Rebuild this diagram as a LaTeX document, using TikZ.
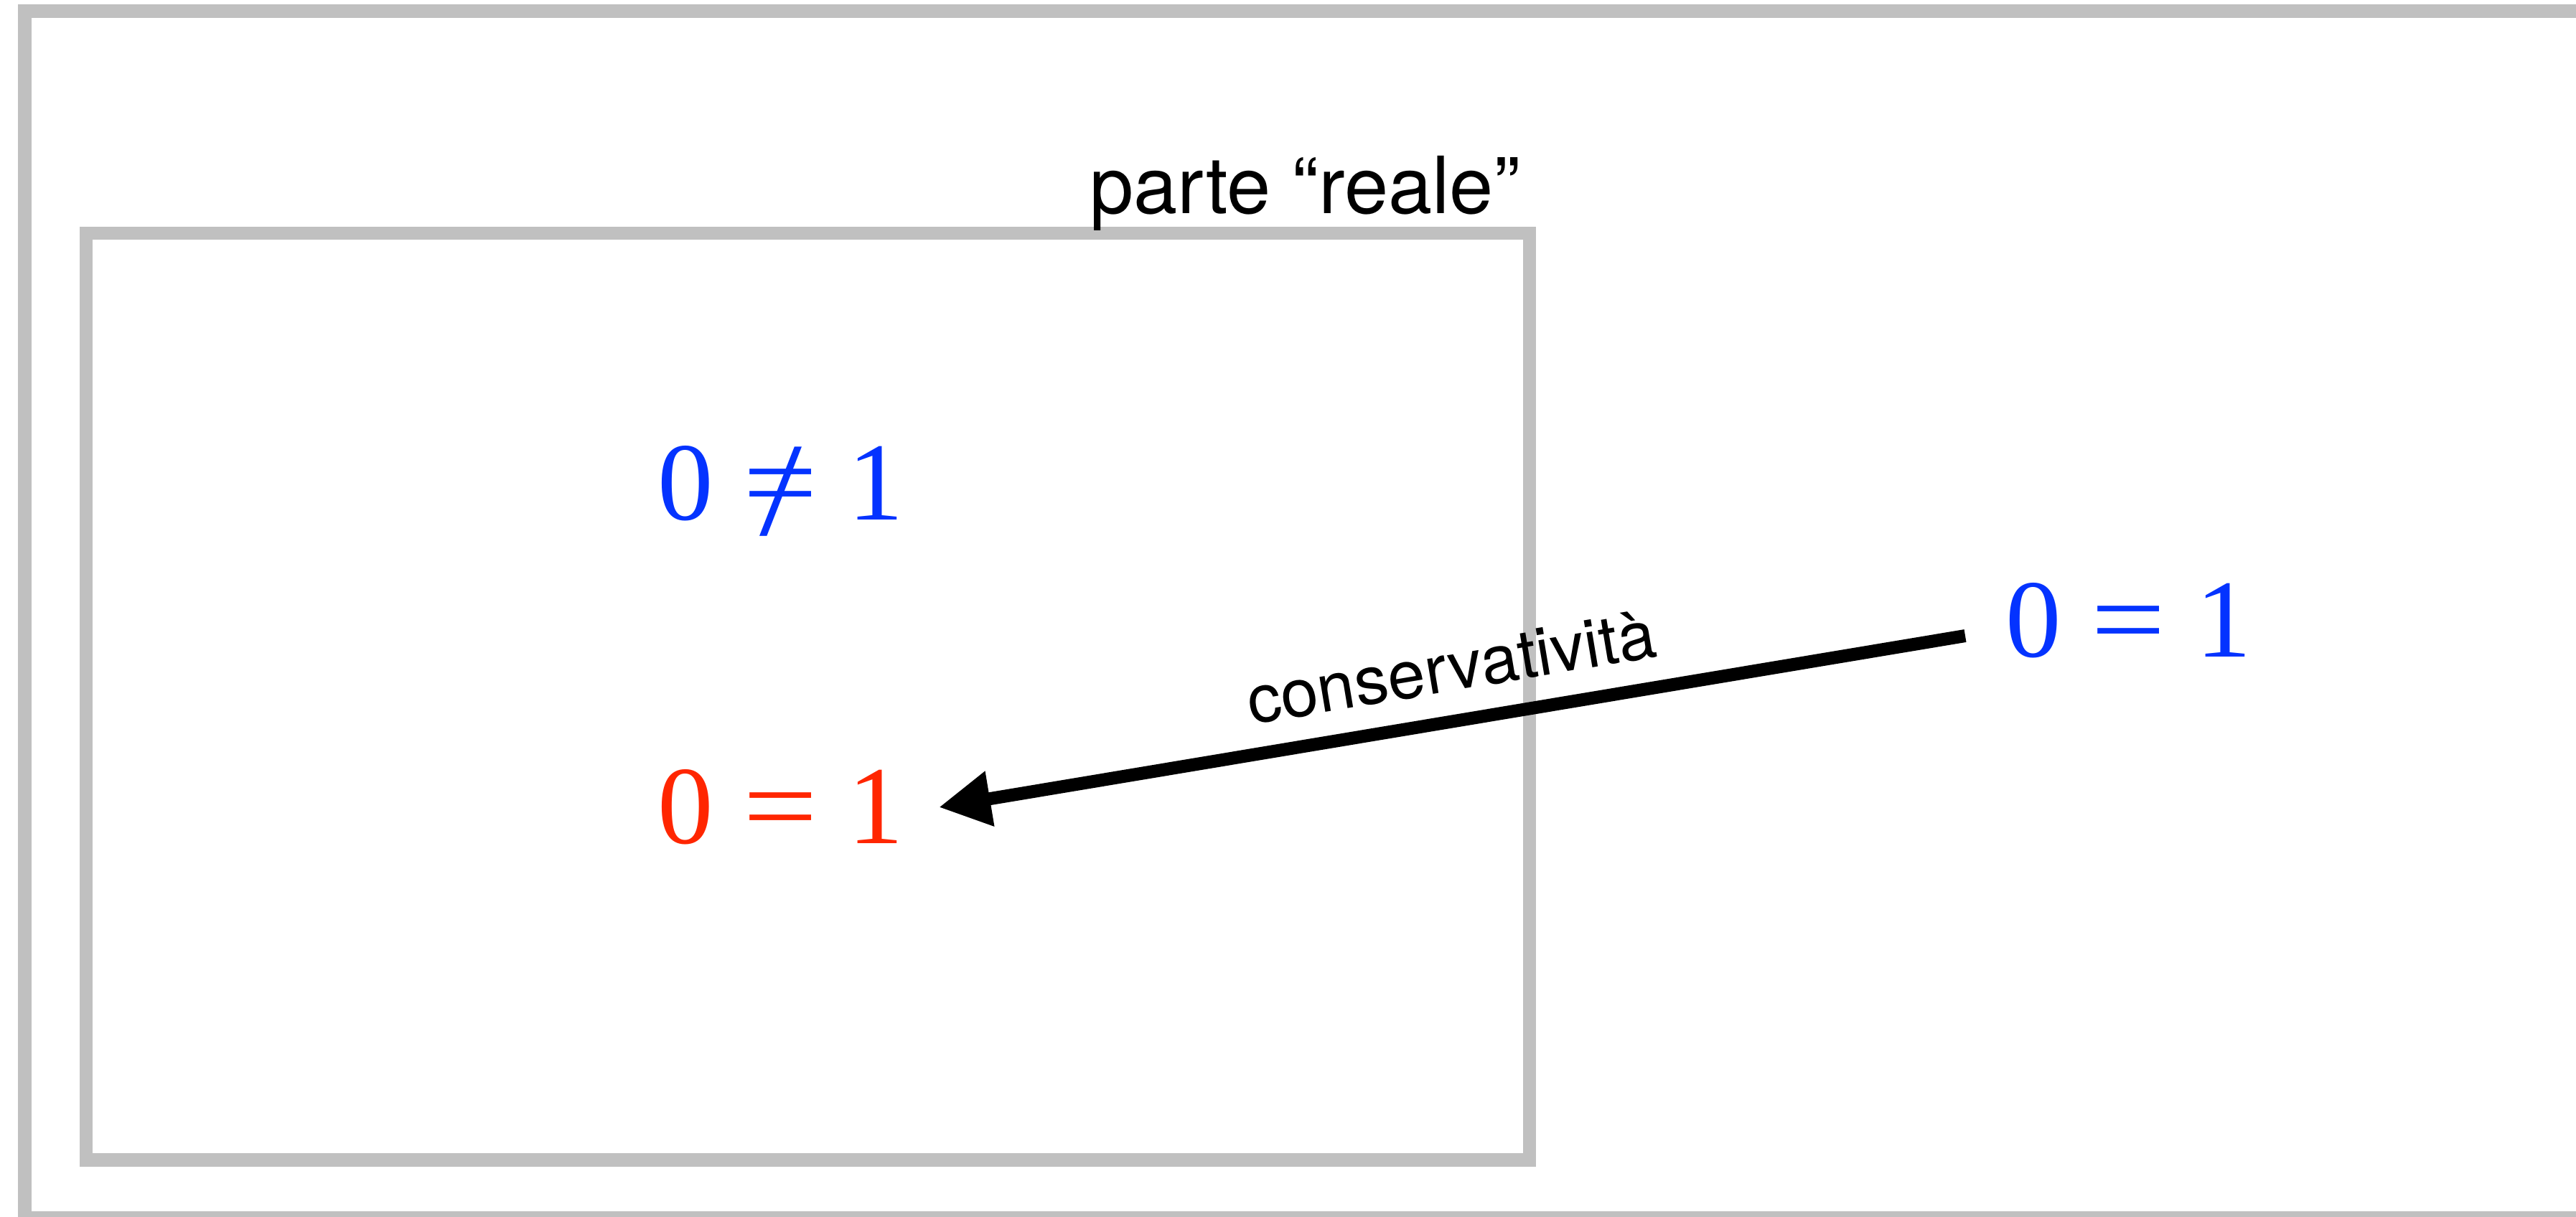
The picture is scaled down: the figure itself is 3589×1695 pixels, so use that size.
\documentclass[tikz,border=0pt]{standalone}
\usepackage{fontspec}
\usepackage{graphicx}
\setmainfont{TeX Gyre Heros}
\newfontfamily\tnr{Liberation Serif}
\usetikzlibrary{arrows.meta}
\definecolor{framegray}{RGB}{192,192,192}
\definecolor{eqblue}{RGB}{4,51,255}
\definecolor{eqred}{RGB}{255,38,0}
\newsavebox\myeqbox
\newcommand{\wideeq}{\kern8.4pt\scalebox{1.19}[1]{=}\kern8.4pt}
\newcommand{\wideneq}{\kern8.4pt\sbox\myeqbox{\scalebox{1.19}[1]{=}}%
  \makebox[\wd\myeqbox]{\raisebox{-4.3pt}{\scalebox{1.37}[1.2]{/}}}%
  \llap{\usebox\myeqbox}\kern8.4pt}
\begin{document}
\begin{tikzpicture}[x=0.2pt,y=-0.2pt,
  frame/.style={draw=framegray, line width=3.7pt},
  eq/.style={font=\tnr\fontsize{31}{31}\selectfont, inner sep=0pt, anchor=base west},
  lbl/.style={font=\fontsize{22}{22}\selectfont, inner sep=0pt, anchor=base west},
  conn/.style={line width=3.6pt, -{Triangle[length=14.4pt,width=14.6pt]}}]
\useasboundingbox (0,0) rectangle (3589,1695);
\clip (0,0) rectangle (3589,1695);
\fill[white] (0,0) rectangle (3589,1695);
\draw[frame, line width=3.8pt] (34.5,15) rectangle (3700,1697.5);
\draw[frame] (120,325) rectangle (2131,1616.5);
\node[lbl] (title) at (1517,297) {parte “reale”};
\node[eq, text=eqblue] (neq) at (915,724) {0\wideneq 1};
\node[eq, text=eqred] (eqin) at (915,1175) {0\wideeq 1};
\node[eq, text=eqblue] (eqout) at (2793,915) {0\wideeq 1};
\node[lbl, font=\fontsize{18.8}{18.8}\selectfont, rotate=9.5] (cons) at (1742,1010) {conservatività};
\draw[conn] ([shift={(-55,-29)}]eqout.base west) -- ([shift={(393,-50)}]eqin.base west);
\end{tikzpicture}
\end{document}
